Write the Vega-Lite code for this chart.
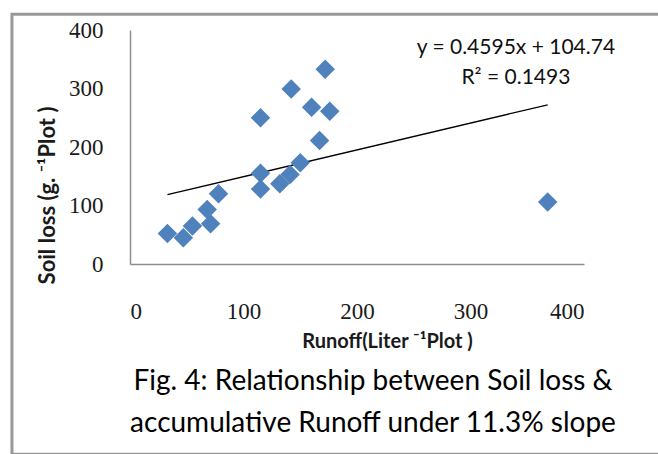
{
  "$schema": "https://vega.github.io/schema/vega-lite/v6.json",
  "width": 454,
  "height": 234,
  "autosize": "none",
  "padding": {"left": 130, "top": 30, "right": 74, "bottom": 190},
  "background": "white",
  "config": {
    "view": {"stroke": null},
    "axis": {
      "grid": false,
      "ticks": false,
      "domainColor": "#8c8c8c",
      "domainWidth": 1.5,
      "labelFont": "Liberation Serif",
      "labelFontSize": 23,
      "labelColor": "#1a1a1a",
      "titleFont": "Lato",
      "titleFontWeight": "bold",
      "titleColor": "#1a1a1a"
    }
  },
  "title": {
    "text": ["Fig. 4: Relationship between Soil loss &", "accumulative Runoff under 11.3% slope"],
    "orient": "bottom",
    "anchor": "middle",
    "frame": "group",
    "font": "Lato",
    "fontSize": 28,
    "fontWeight": "normal",
    "color": "#000000",
    "lineHeight": 42,
    "offset": -88,
    "dx": 16
  },
  "data": {
    "values": [
      {"runoff": 33, "soil": 52},
      {"runoff": 47, "soil": 45},
      {"runoff": 55, "soil": 65},
      {"runoff": 68, "soil": 93},
      {"runoff": 71, "soil": 69},
      {"runoff": 78, "soil": 120},
      {"runoff": 115, "soil": 250},
      {"runoff": 115, "soil": 155},
      {"runoff": 115, "soil": 128},
      {"runoff": 132, "soil": 137},
      {"runoff": 141, "soil": 153},
      {"runoff": 150, "soil": 173},
      {"runoff": 142, "soil": 299},
      {"runoff": 160, "soil": 268},
      {"runoff": 176, "soil": 261},
      {"runoff": 172, "soil": 333},
      {"runoff": 167, "soil": 211},
      {"runoff": 368, "soil": 106}
    ]
  },
  "layer": [
    {
      "data": {"values": [{}]},
      "mark": {"type": "rect", "filled": false, "stroke": "#999999", "strokeWidth": 3, "fill": null},
      "encoding": {
        "x": {"datum": -104, "type": "quantitative"},
        "x2": {"datum": 470},
        "y": {"datum": 427, "type": "quantitative"},
        "y2": {"datum": -325}
      }
    },
    {
      "transform": [{"regression": "soil", "on": "runoff"}],
      "mark": {"type": "line", "color": "#000000", "strokeWidth": 1.3},
      "encoding": {
        "x": {"field": "runoff", "type": "quantitative"},
        "y": {"field": "soil", "type": "quantitative"}
      }
    },
    {
      "mark": {"type": "point", "shape": "diamond", "filled": true, "size": 380, "color": "#4F81BD", "opacity": 1},
      "encoding": {
        "x": {
          "field": "runoff",
          "type": "quantitative",
          "scale": {"domain": [0, 400], "nice": false, "zero": true},
          "axis": {
            "values": [0, 100, 200, 300, 400],
            "labelPadding": 36,
            "title": "Runoff(Liter ⁻¹Plot )",
            "titleFontSize": 20,
            "titleX": 257,
            "titleY": 77,
            "titleBaseline": "middle"
          }
        },
        "y": {
          "field": "soil",
          "type": "quantitative",
          "scale": {"domain": [0, 400], "nice": false, "zero": true},
          "axis": {
            "values": [0, 100, 200, 300, 400],
            "labelPadding": 27,
            "title": "Soil loss (g. ⁻¹Plot )",
            "titleFontSize": 22,
            "titleX": -83,
            "titleY": 165,
            "titleAngle": 270,
            "titleBaseline": "middle"
          }
        }
      }
    },
    {
      "data": {"values": [{}]},
      "mark": {"type": "text", "font": "Lato", "fontSize": 21, "fontWeight": "normal", "color": "#111111", "align": "center", "baseline": "middle"},
      "encoding": {
        "x": {"datum": 340, "type": "quantitative"},
        "y": {"datum": 369, "type": "quantitative"},
        "text": {"value": "y = 0.4595x + 104.74"}
      }
    },
    {
      "data": {"values": [{}]},
      "mark": {"type": "text", "font": "Lato", "fontSize": 21, "fontWeight": "normal", "color": "#111111", "align": "center", "baseline": "middle"},
      "encoding": {
        "x": {"datum": 340, "type": "quantitative"},
        "y": {"datum": 318, "type": "quantitative"},
        "text": {"value": "R² = 0.1493"}
      }
    }
  ]
}
